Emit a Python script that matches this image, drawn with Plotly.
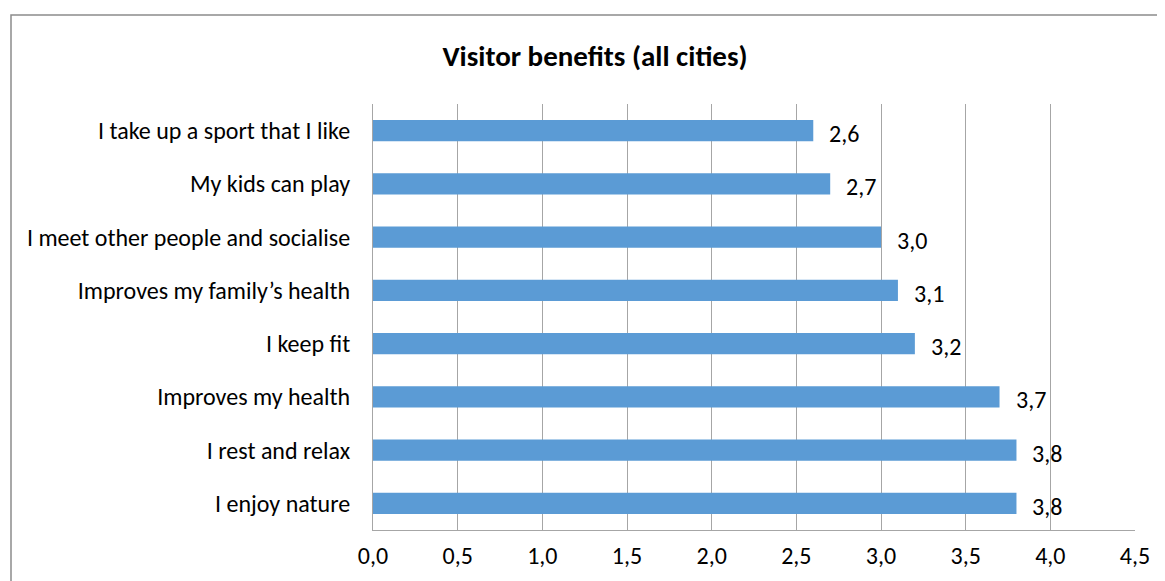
import plotly.graph_objects as go

categories = [
    "I take up a sport that I like",
    "My kids can play",
    "I meet other people and socialise",
    "Improves my family’s health",
    "I keep fit",
    "Improves my health",
    "I rest and relax",
    "I enjoy nature",
]
values = [2.6, 2.7, 3.0, 3.1, 3.2, 3.7, 3.8, 3.8]
tick_vals = [0.0, 0.5, 1.0, 1.5, 2.0, 2.5, 3.0, 3.5, 4.0, 4.5]

FONT = "Carlito, Lato, 'Liberation Sans', sans-serif"
W, H = 1157, 573          # page has an 8px body margin
L, R, T, B = 365, 30, 96, 51
pw, ph = W - L - R, H - T - B

fig = go.Figure()
fig.add_trace(go.Bar(
    x=values, y=categories, orientation="h",
    marker=dict(color="#5B9BD5", line=dict(width=0)),
    hoverinfo="x+y",
))

for c, v in zip(categories, values):
    fig.add_annotation(
        x=v, y=c, xref="x", yref="y", text=f"{v:.1f}".replace(".", ","),
        showarrow=False, xanchor="left", yanchor="middle", xshift=14, yshift=-3,
        font=dict(family=FONT, size=24, color="#000000"),
    )

# chart border
fig.add_shape(
    type="rect", xref="paper", yref="paper",
    x0=(3 - L) / pw, x1=(W + 20 - L) / pw,
    y0=-(B + 20) / ph, y1=1 + (T - 7) / ph,
    line=dict(color="#8c8c8c", width=1.5), fillcolor="rgba(0,0,0,0)", layer="below",
)

fig.update_layout(
    width=W, height=H,
    margin=dict(l=L, r=R, t=T, b=B),
    paper_bgcolor="white", plot_bgcolor="white",
    separators=", ",
    showlegend=False,
    bargap=0.6,
    font=dict(family=FONT, size=24, color="#000000"),
    title=dict(
        text="<b>Visitor benefits (all cities)</b>",
        x=(587 - L) / pw, xref="paper", xanchor="center",
        y=1 - 48 / H, yref="container", yanchor="middle",
        font=dict(family=FONT, size=29, color="#000000"),
    ),
    xaxis=dict(
        range=[0, 4.5], tickvals=tick_vals, tickformat=".1f",
        showgrid=True, gridcolor="#a6a6a6", gridwidth=1,
        showline=True, linecolor="#a6a6a6", linewidth=1,
        zeroline=False, ticks="", ticklabelstandoff=4,
        tickfont=dict(family=FONT, size=24, color="#000000"),
    ),
    yaxis=dict(
        autorange="reversed", showgrid=False,
        showline=True, linecolor="#a6a6a6", linewidth=1,
        ticks="", ticklabelstandoff=17,
        tickfont=dict(family=FONT, size=24, color="#000000"),
    ),
)

fig.write_html("out.html")
